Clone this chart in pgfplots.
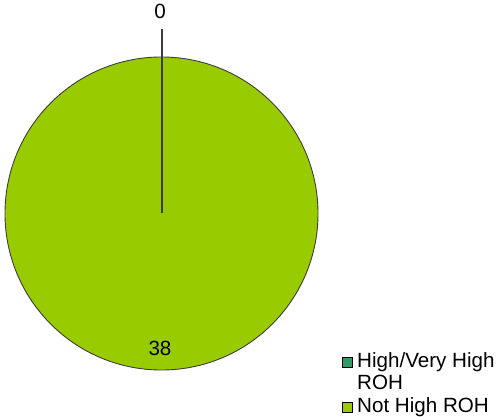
\documentclass[border=0pt]{standalone}
\usepackage{pgfplots}
\pgfplotsset{compat=1.18}
\usepackage{pgfplotstable}
\usepackage{fontspec}
\setmainfont{Liberation Sans}
\definecolor{pieGreen}{RGB}{153,204,0}
\definecolor{pieTeal}{RGB}{51,153,102}
\definecolor{edgeGray}{RGB}{60,60,60}
\pgfplotstableread[col sep=comma]{
label,value
High/Very High ROH,0
Not High ROH,38
}\datatable
\begin{document}
\fontsize{20.6bp}{24bp}\selectfont
\begin{tikzpicture}
\pgfplotstablegetelem{0}{value}\of\datatable \let\vA\pgfplotsretval
\pgfplotstablegetelem{1}{value}\of\datatable \let\vB\pgfplotsretval
\pgfmathsetmacro{\tot}{\vA+\vB}
\pgfmathsetmacro{\aA}{90-360*\vA/\tot}
\pgfmathsetmacro{\aB}{\aA-360*\vB/\tot}
\begin{axis}[x=1bp,y=1bp,xmin=0,xmax=500,ymin=0,ymax=414,
  hide axis,scale only axis,clip=false,enlargelimits=false]
\path (axis cs:0,0) rectangle (axis cs:500,414);
% slice 2 (Not High ROH)
\fill[pieGreen] (axis cs:161.5,200.5) -- ++(\aA:156.5bp) arc[start angle=\aA,end angle=\aB,radius=156.5bp] -- cycle;
% slice 1 (High/Very High ROH)
\ifdim\vA pt>0pt
\fill[pieTeal] (axis cs:161.5,200.5) -- ++(90:156.5bp) arc[start angle=90,end angle=\aA,radius=156.5bp] -- cycle;
\fi
\draw[edgeGray,line width=0.9bp] (axis cs:161.5,200.5) circle[radius=156.5bp];
\draw[edgeGray,line width=2bp] (axis cs:161.5,200.5) -- ++(\aA:156.5bp);
\draw[edgeGray,line width=2bp] (axis cs:161.5,357) -- (axis cs:161.5,385);
\node[anchor=base,inner sep=0pt] at (axis cs:160,395) {\vA};
\node[anchor=base,inner sep=0pt] at (axis cs:160,59) {\vB};
% legend
\draw[black,line width=0.8bp,fill=pieTeal] (axis cs:342,47) rectangle (axis cs:352,57);
\node[anchor=base west,inner sep=0pt] at (axis cs:357,47) {High/Very High};
\node[anchor=base west,inner sep=0pt] at (axis cs:357,24.5) {ROH};
\draw[black,line width=0.8bp,fill=pieGreen] (axis cs:342,2) rectangle (axis cs:352,12);
\node[anchor=base west,inner sep=0pt] at (axis cs:357,2) {Not High ROH};
\end{axis}
\end{tikzpicture}
\end{document}
